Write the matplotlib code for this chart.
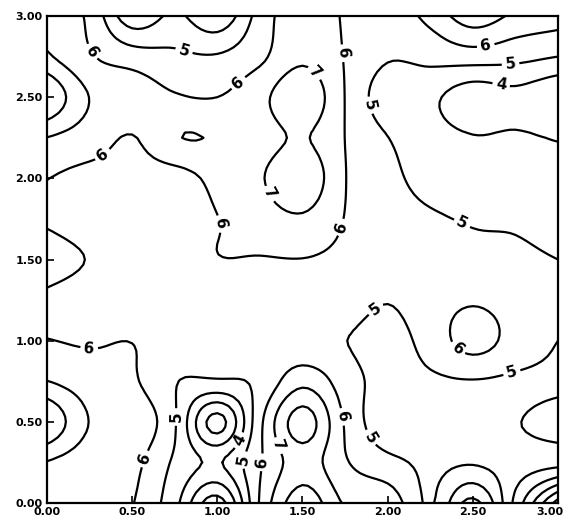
import numpy as np
import matplotlib.pyplot as plt
from matplotlib.transforms import ScaledTranslation

# grid nodes (0.25 step) of the contoured field
x_nodes = np.linspace(0, 3, 13)
y_nodes = np.linspace(0, 3, 13)

# values, one list per row, top row (y=3.00) first
row_300 = [6.6, 5.8, 3.3, 4.2, 3.2, 5.4, 6.7, 5.9, 5.5, 6.3, 7.6, 6.8, 6.5]
row_275 = [7.15, 6.1, 5.5, 5.2, 5.1, 5.8, 6.8, 5.95, 5.1, 5.3, 5.5, 5.3, 5.0]
row_250 = [9.0, 6.98, 6.6, 6.1, 6.0, 6.7, 7.8, 5.98, 4.4, 4.2, 3.4, 3.7, 3.1]
row_225 = [6.98, 6.5, 5.95, 6.94, 6.94, 6.6, 7.1, 5.99, 5.02, 4.4, 4.05, 4.1, 3.95]
row_200 = [6.02, 5.7, 5.6, 5.6, 6.3, 6.9, 7.8, 6.03, 5.3, 4.6, 4.3, 4.3, 4.25]
row_175 = [5.9, 5.6, 5.5, 5.6, 5.98, 6.5, 6.85, 5.97, 5.5, 5.15, 4.9, 4.85, 4.6]
row_150 = [6.4, 5.95, 5.5, 5.6, 5.97, 5.95, 5.98, 5.8, 5.6, 5.5, 5.3, 5.2, 5.0]
row_125 = [5.85, 5.6, 5.4, 5.4, 5.4, 5.5, 5.6, 5.5, 5.05, 5.6, 5.9, 5.6, 5.4]
row_100 = [6.03, 5.9, 5.98, 5.5, 5.4, 5.3, 5.2, 5.02, 4.6, 5.4, 6.4, 5.6, 5.0]
row_075 = [7.02, 6.5, 6.15, 5.05, 4.9, 5.2, 6.7, 5.5, 4.6, 4.85, 4.95, 4.8, 4.6]
row_050 = [9.0, 6.97, 6.8, 5.1, 1.6, 5.75, 8.5, 5.9, 4.3, 4.6, 4.5, 4.1, 3.2]
row_025 = [6.95, 6.5, 6.3, 4.85, 3.9, 5.9, 7.5, 6.1, 5.3, 4.8, 4.9, 4.5, 4.3]
row_000 = [6.5, 6.4, 6.05, 4.3, 1.5, 6.1, 8.6, 6.9, 6.7, 4.9, 7.3, 3.7, -0.5]

levels = np.arange(0, 10)
tick_vals = [0.0, 0.5, 1.0, 1.5, 2.0, 2.5, 3.0]

# where the plotter put its labels
label_pos = [(0.25, 2.77), (0.80, 2.77), (1.13, 2.58), (0.31, 2.17), (1.02, 1.72),
             (1.56, 2.64), (1.33, 1.92), (1.73, 2.77), (1.72, 1.70), (1.85, 2.44),
             (2.58, 2.79), (2.72, 2.72), (2.66, 2.54), (2.44, 1.73), (1.94, 1.18),
             (2.38, 0.91), (2.73, 0.80), (0.25, 0.97), (0.55, 0.28), (0.75, 0.53),
             (1.12, 0.39), (1.18, 0.26), (1.27, 0.25), (1.35, 0.35), (1.73, 0.53),
             (1.88, 0.39)]

Z = np.flipud(np.array([row_300, row_275, row_250, row_225, row_200, row_175, row_150,
                        row_125, row_100, row_075, row_050, row_025, row_000]))


# smooth the coarse grid (Catmull-Rom) so the contour lines are not polygons
def cr_matrix(n, factor):
    t = np.linspace(0, n - 1, (n - 1) * factor + 1)
    M = np.zeros((len(t), n))
    for k, tk in enumerate(t):
        i = min(int(np.floor(tk)), n - 2)
        u = tk - i
        w = [(-u**3 + 2*u**2 - u) / 2, (3*u**3 - 5*u**2 + 2) / 2,
             (-3*u**3 + 4*u**2 + u) / 2, (u**3 - u**2) / 2]
        for j, wj in zip(range(i - 1, i + 3), w):
            if j < 0:
                M[k, 0] += 2 * wj
                M[k, 1] -= wj
            elif j > n - 1:
                M[k, n - 1] += 2 * wj
                M[k, n - 2] -= wj
            else:
                M[k, j] += wj
    return M


Mx = cr_matrix(len(x_nodes), 8)
My = cr_matrix(len(y_nodes), 8)
Zf = My @ Z @ Mx.T
xf = np.linspace(x_nodes[0], x_nodes[-1], Mx.shape[0])
yf = np.linspace(y_nodes[0], y_nodes[-1], My.shape[0])

fig = plt.figure(figsize=(5.66, 5.23), dpi=100)
ax = fig.add_axes([47 / 566, 1 - 503 / 523, (558 - 47) / 566, (503 - 16) / 523])

cs = ax.contour(xf, yf, Zf, levels=levels, colors='k', linewidths=1.6)
labels = ax.clabel(cs, inline=True, fmt='%d', fontsize=11, manual=label_pos, inline_spacing=4)
for t in labels:
    t.set_fontweight('bold')

ax.set_xlim(0, 3)
ax.set_ylim(0, 3)
ax.set_xticks(tick_vals)
ax.set_yticks(tick_vals)
ax.set_xticklabels(['%.2f' % v for v in tick_vals], fontsize=8, fontweight='bold')
ax.set_yticklabels(['%.2f' % v for v in tick_vals], fontsize=8, fontweight='bold')
ax.tick_params(direction='in', length=5, width=1.2, top=False, right=False, pad=3)
for s in ax.spines.values():
    s.set_linewidth(1.6)

# last x label sits at the figure edge, nudge it in
last = ax.get_xticklabels()[-1]
last.set_transform(last.get_transform() + ScaledTranslation(-6 / 72, 0, fig.dpi_scale_trans))

plt.savefig('out.png', dpi=100)
plt.close()
